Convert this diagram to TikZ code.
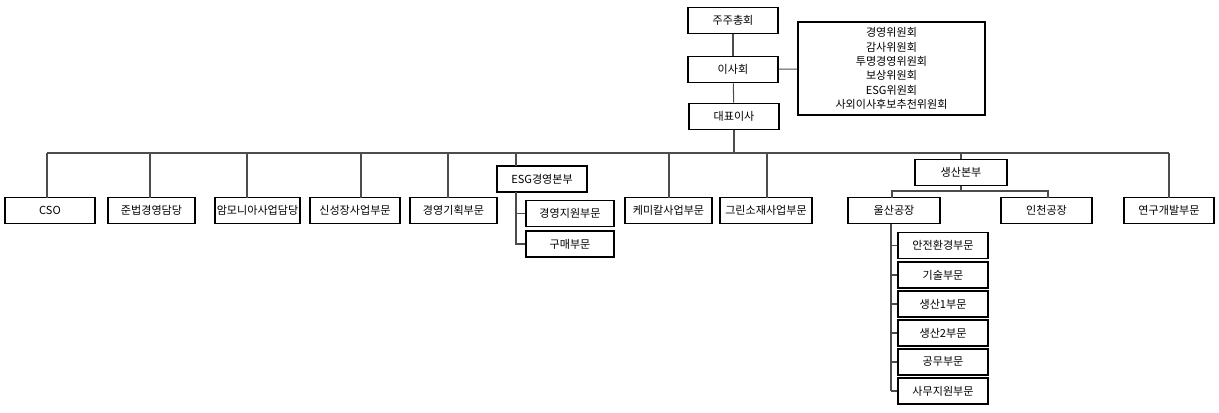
\documentclass[tikz,border=0pt]{standalone}
\usepackage{fontspec}
\setmainfont{Noto Sans CJK KR}
\usetikzlibrary{positioning}
\tikzset{
  unit/.style={draw=black,line width=1.1pt,fill=white,inner sep=0pt,
    font=\fontsize{6.3}{8.2}\selectfont,minimum height=0.52cm,align=center},
  link/.style={draw=black!70,line width=0.6pt},
}
\begin{document}
\begin{tikzpicture}[x=0.02cm,y=-0.02cm]
  \useasboundingbox (0,0) rectangle (1219,412);

  % Top of the chart
  \node[unit,minimum width=1.8cm] (gm) at (733,20.5) {주주총회};
  \node[unit,minimum width=1.8cm] (board) at (733,69.5) {이사회};
  \node[unit,minimum width=1.8cm] (ceo) at (734,116.5) {대표이사};
  \node[unit,minimum width=3.74cm,minimum height=1.86cm] (comm) at (891.5,68.5)
    {경영위원회\\감사위원회\\투명경영위원회\\보상위원회\\ESG위원회\\사외이사후보추천위원회};

  \draw[link] (gm) -- (board);
  \draw[link] (board) -- (ceo);
  \draw[link] (board) -- (comm);

  % Bus below the CEO
  \coordinate (busL) at (47,153);
  \coordinate (busR) at (1169,153);
  \draw[link] (ceo) -- (ceo |- busL);
  \draw[link] (busL) -- (busR);

  % First row
  \foreach \name/\x/\w/\txt in {cso/50/1.8/CSO, law/151.5/1.74/준법경영담당,
      amm/257.5/1.7/암모니아사업담당, grow/355/1.8/신성장사업부문,
      plan/453.5/1.74/경영기획부문, chem/668.5/1.74/케미칼사업부문,
      green/766/1.84/그린소재사업부문, rnd/1169/1.8/연구개발부문}
  {
    \node[unit,minimum width=\w cm] (\name) at (\x,210.5) {\txt};
  }
  \foreach \x in {47,150,247,361,448,669,767,1169}
    \draw[link] (\x,153) -- (\x,197.5);

  % ESG
  \node[unit,minimum width=1.8cm] (esg) at (542,179) {ESG경영본부};
  \node[unit,minimum width=1.76cm] (support) at (570,213.5) {경영지원부문};
  \node[unit,minimum width=1.76cm] (buy) at (570,244) {구매부문};
  \draw[link] (516,153) -- (516,166);
  \draw[link] (516,192) -- (516,244) -- (buy.west);
  \draw[link] (516,213.5) -- (support.west);

  % Production
  \node[unit,minimum width=1.84cm] (prod) at (961,172.5) {생산본부};
  \node[unit,minimum width=1.84cm] (ulsan) at (894,210.5) {울산공장};
  \node[unit,minimum width=1.82cm] (incheon) at (1046.5,210.5) {인천공장};
  \draw[link] (prod) -- (961,153);
  \draw[link] (prod) -- (961,191);
  \draw[link] (892,197.5) -- (892,191) -- (1048,191) -- (1048,197.5);

  \foreach \name/\y/\txt in {safe/245.5/안전환경부문, tech/275/기술부문,
      pone/304/생산1부문, ptwo/333/생산2부문, work/362/공무부문,
      office/391/사무지원부문}
  {
    \node[unit,minimum width=1.8cm] (\name) at (943,\y) {\txt};
    \draw[link] (891,\y) -- (\name.west);
  }
  \draw[link] (891,223.5) -- (891,391);
\end{tikzpicture}
\end{document}
